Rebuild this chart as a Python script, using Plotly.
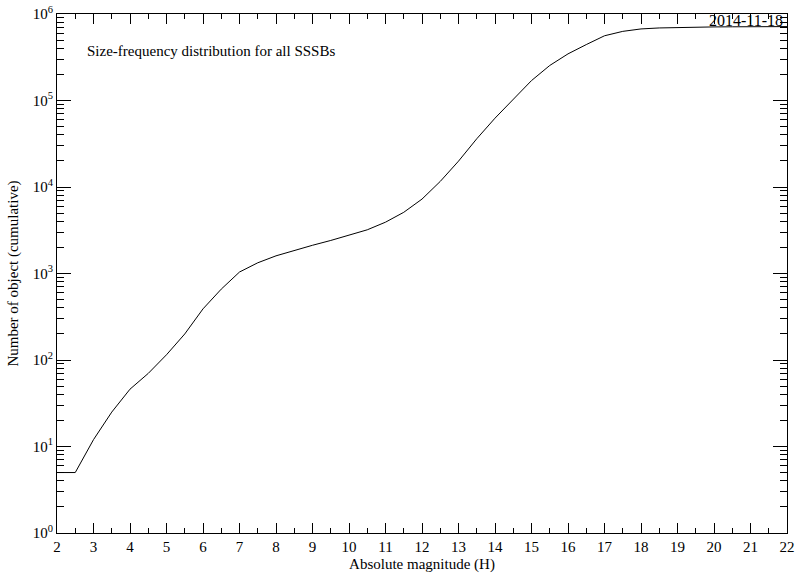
import plotly.graph_objects as go

# Absolute magnitude H (0.5 mag steps)
magnitude = [2.0, 2.5, 3.0, 3.5, 4.0, 4.5, 5.0, 5.5, 6.0, 6.5, 7.0, 7.5, 8.0, 8.5,
             9.0, 9.5, 10.0, 10.5, 11.0, 11.5, 12.0, 12.5, 13.0, 13.5, 14.0, 14.5,
             15.0, 15.5, 16.0, 16.5, 17.0, 17.5, 18.0, 18.5, 19.0, 19.5, 20.0,
             20.5, 21.0, 21.5, 22.0]
# Cumulative number of objects
cumulative = [5, 5, 12, 25, 46, 70, 115, 200, 390, 660, 1040, 1330, 1600, 1860,
              2120, 2410, 2750, 3200, 3920, 5100, 7250, 11600, 19900, 36100,
              62500, 104500, 170000, 254000, 346000, 443000, 560000, 630000,
              672000, 690000, 700000, 706000, 709000, 711000, 713000, 714000, 715000]

y_tickvals = [1, 10, 100, 1000, 10000, 100000, 1000000]
y_ticktext = ["10<sup>0</sup>", "10<sup>1</sup>", "10<sup>2</sup>", "10<sup>3</sup>",
              "10<sup>4</sup>", "10<sup>5</sup>", "10<sup>6</sup>"]
x_tickvals = list(range(2, 23))

FONT = "Liberation Serif, Times New Roman, serif"

fig = go.Figure()
# invisible twin trace so the mirrored (top/right) axes get drawn
fig.add_trace(go.Scatter(x=magnitude, y=cumulative, mode="lines", xaxis="x2", yaxis="y2",
                         line=dict(color="rgba(0,0,0,0)", width=1), showlegend=False,
                         hoverinfo="skip"))
fig.add_trace(go.Scatter(x=magnitude, y=cumulative, mode="lines",
                         line=dict(color="black", width=1), showlegend=False,
                         hoverinfo="skip"))

common_x = dict(range=[2, 22], tickvals=x_tickvals, showgrid=False, zeroline=False,
                showline=True, linecolor="black", linewidth=1,
                ticks="inside", ticklen=10, tickwidth=1, tickcolor="black",
                minor=dict(ticks="inside", ticklen=5, tickwidth=1, tickcolor="black",
                           dtick=0.5, showgrid=False),
                automargin=False)
common_y = dict(type="log", range=[0, 6], tickvals=y_tickvals, showgrid=False,
                zeroline=False, showline=True, linecolor="black", linewidth=1,
                ticks="inside", ticklen=14, tickwidth=1, tickcolor="black",
                minor=dict(ticks="inside", ticklen=7, tickwidth=1, tickcolor="black",
                           dtick="D1", showgrid=False),
                automargin=False)

fig.update_layout(
    width=797, height=573,
    margin=dict(l=57, r=10, t=14, b=40),
    paper_bgcolor="white", plot_bgcolor="white",
    font=dict(family=FONT, size=15, color="black"),
    xaxis=dict(common_x, ticktext=[str(v) for v in x_tickvals], tickfont=dict(size=15),
               title=dict(text="Absolute magnitude (H)", standoff=6, font=dict(size=15))),
    yaxis=dict(common_y, ticktext=y_ticktext, tickfont=dict(size=15),
               title=dict(text="Number of object (cumulative)", standoff=10,
                          font=dict(size=15))),
    xaxis2=dict(common_x, overlaying="x", side="top", anchor="y2", showticklabels=False),
    yaxis2=dict(common_y, overlaying="y", side="right", anchor="x2", showticklabels=False),
    annotations=[
        dict(text="Size-frequency distribution for all SSSBs", xref="paper", yref="paper",
             x=0.038, y=0.929, xanchor="left", yanchor="middle", showarrow=False,
             font=dict(size=15)),
        dict(text="2014-11-18", xref="paper", yref="paper",
             x=0.997, y=0.987, xanchor="right", yanchor="middle", showarrow=False,
             font=dict(size=16)),
    ],
)

fig.write_html("out.html", config={"displayModeBar": False},
               post_script="document.body.style.margin='0';")
